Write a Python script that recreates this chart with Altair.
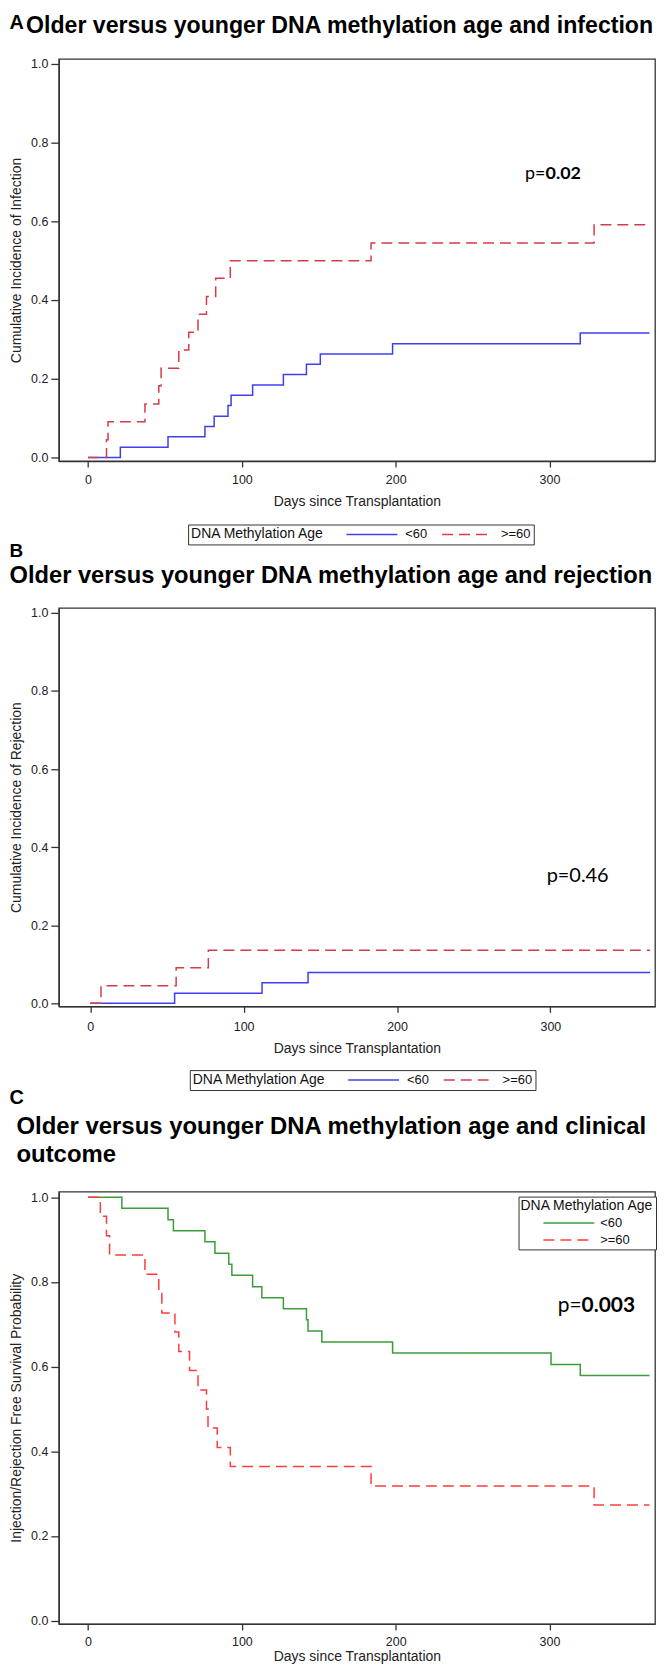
import altair as alt
import pandas as pd

GROUPS = ["<60", ">=60"]
LETTERS = ["A", "B", "C"]
TITLES = [
    "Older versus younger DNA methylation age and infection",
    "Older versus younger DNA methylation age and rejection",
    "Older versus younger DNA methylation age and clinical\noutcome",
]
Y_TITLES = [
    "Cumulative Incidence of Infection",
    "Cumulative Incidence of Rejection",
    "Injection/Rejection Free Survival Probability",
]
X_TITLE = "Days since Transplantation"
LEGEND_TITLE = "DNA Methylation Age"
X_TICKS = [0, 100, 200, 300]
Y_TICKS = [0.0, 0.2, 0.4, 0.6, 0.8, 1.0]

# Panel A: cumulative incidence of infection
inf_lt60_days = [0, 21, 52, 76, 82, 91, 93, 107, 127, 142, 151, 198, 320, 365]
inf_lt60_vals = [0, 0.026, 0.053, 0.079, 0.105, 0.132, 0.158, 0.184, 0.211, 0.237, 0.263, 0.289, 0.316, 0.316]
inf_ge60_days = [0, 12, 13, 37, 46, 47.5, 59, 65.5, 71.5, 77, 83, 92.5, 184, 329, 365]
inf_ge60_vals = [0, 0.045, 0.091, 0.136, 0.182, 0.227, 0.273, 0.318, 0.364, 0.409, 0.455, 0.5, 0.545, 0.591, 0.591]

# Panel B: cumulative incidence of rejection
rej_lt60_days = [0, 55, 112, 142, 365]
rej_lt60_vals = [0, 0.026, 0.053, 0.079, 0.079]
rej_ge60_days = [0, 7, 56, 77, 365]
rej_ge60_vals = [0, 0.045, 0.091, 0.136, 0.136]

# Panel C: infection/rejection free survival
efs_lt60_days = [0, 22, 52, 55.5, 76, 82.5, 91.5, 93.5, 107, 113, 127, 142, 143, 152, 198, 301, 320, 365]
efs_lt60_vals = [1, 0.974, 0.947, 0.921, 0.895, 0.868, 0.842, 0.816, 0.789, 0.763, 0.737, 0.711, 0.684, 0.658, 0.632, 0.605, 0.579, 0.579]
efs_ge60_days = [0, 8, 12, 14, 37, 46, 48, 56.5, 59, 66, 71.5, 77, 78, 84, 92.5, 184, 329, 365]
efs_ge60_vals = [1, 0.955, 0.909, 0.864, 0.818, 0.773, 0.727, 0.682, 0.636, 0.591, 0.545, 0.5, 0.455, 0.409, 0.364, 0.318, 0.273, 0.273]

P_LABEL = "p="
P_VALUES = ["0.02", "0.46", "0.003"]

AB_COLORS = ["#3f3ff2", "#d43c49"]
C_COLORS = ["#3a9c3a", "#ff3c3c"]
DASHES = [[1, 0], [11, 6]]

SANS = "Liberation Sans"
PFONT = "Lato"

LEFT = -49.5      # left edge of the page relative to the plot origin
YTITLE_X = -42.5


def frame(d_lt, v_lt, d_ge, v_ge):
    return pd.DataFrame({
        "day": list(d_lt) + list(d_ge),
        "val": list(v_lt) + list(v_ge),
        "group": [GROUPS[0]] * len(d_lt) + [GROUPS[1]] * len(d_ge),
    })


def text_layer(s, x, y, size, weight="bold", font=SANS, align="left", line_height=None):
    kw = {}
    if line_height is not None:
        kw["lineHeight"] = line_height
        kw["lineBreak"] = "\n"
    return alt.Chart(pd.DataFrame({"t": [s]})).mark_text(
        align=align, baseline="alphabetic", fontSize=size, fontWeight=weight,
        font=font, color="black", **kw
    ).encode(text="t:N", x=alt.value(x), y=alt.value(y))


def lines(df, width, height, xdom, ydom, ytitle, colors, legend, xlabpad, xtitle_y):
    return alt.Chart(df).mark_line(interpolate="step-after", strokeWidth=1.5).encode(
        x=alt.X("day:Q", scale=alt.Scale(domain=xdom, nice=False, zero=False),
                axis=alt.Axis(values=X_TICKS, title=X_TITLE, titleX=width / 2, titleY=xtitle_y,
                              titleBaseline="middle", titleAlign="center",
                              tickSize=6, labelPadding=xlabpad, grid=False, labelFlush=False)),
        y=alt.Y("val:Q", scale=alt.Scale(domain=ydom, nice=False, zero=False),
                axis=alt.Axis(values=Y_TICKS, format=".1f", title=ytitle, titleX=YTITLE_X,
                              titleY=height / 2, titleAngle=270, titleBaseline="middle",
                              titleAlign="center", tickSize=8, labelPadding=3, grid=False)),
        color=alt.Color("group:N", scale=alt.Scale(domain=GROUPS, range=colors), legend=legend),
        strokeDash=alt.StrokeDash("group:N", scale=alt.Scale(domain=GROUPS, range=DASHES), legend=legend),
    )


def h_legend(x, y):
    return alt.Legend(
        title=LEGEND_TITLE, orient="none", legendX=x, legendY=y, direction="horizontal",
        titleOrient="left", symbolType="stroke", symbolSize=2601, symbolStrokeWidth=1.5,
        clipHeight=14, titlePadding=21, labelOffset=7, columnPadding=13, padding=3,
        strokeColor="#333", fillColor="white", titleFontSize=14, titleFontWeight="normal",
        labelFontSize=13, titleFont=SANS, labelFont=SANS, titleColor="#111", labelColor="#111",
    )


def v_legend(x, y):
    return alt.Legend(
        title=LEGEND_TITLE, orient="none", legendX=x, legendY=y, direction="vertical",
        symbolType="stroke", symbolSize=2601, symbolStrokeWidth=1.5, symbolOffset=22,
        clipHeight=13, titlePadding=4, labelOffset=5, rowPadding=3, padding=2,
        strokeColor="#333", fillColor="white", titleFontSize=14, titleFontWeight="normal",
        labelFontSize=13, titleFont=SANS, labelFont=SANS, titleColor="#111", labelColor="#111",
    )


W = 598.5

# ---- Panel A ----
HA = 403.6
panel_a = alt.layer(
    lines(frame(inf_lt60_days, inf_lt60_vals, inf_ge60_days, inf_ge60_vals), W, HA,
          [-19.0, 368.6], [-0.0089, 1.012], Y_TITLES[0], AB_COLORS, h_legend(129.8, 467.3), 7, 41),
    text_layer(LETTERS[0], LEFT, -30.4, 20),
    text_layer(TITLES[0], -32.9, -25.9, 23.2),
    text_layer(P_LABEL, 488.6, 120, 18, weight="normal", font=PFONT, align="right"),
    text_layer(P_VALUES[0], 488.6, 120, 18, weight="bold", font=PFONT),
).properties(width=W, height=HA)

# ---- Panel B ----
HB = 400
panel_b = alt.layer(
    lines(frame(rej_lt60_days, rej_lt60_vals, rej_ge60_days, rej_ge60_vals), W, HB,
          [-20.5, 368.2], [-0.0077, 1.0128], Y_TITLES[1], AB_COLORS, h_legend(131.5, 464), 8, 42),
    text_layer(LETTERS[1], LEFT, -51, 19),
    text_layer(TITLES[1], LEFT, -25, 23.8),
    text_layer(P_LABEL + P_VALUES[1], 489.7, 275.2, 20, weight="normal", font=PFONT),
).properties(width=W, height=HB)

# ---- Panel C ----
HC = 434
panel_c = alt.layer(
    lines(frame(efs_lt60_days, efs_lt60_vals, efs_ge60_days, efs_ge60_vals), W, HC,
          [-19.0, 368.6], [-0.0078, 1.0134], Y_TITLES[2], C_COLORS, v_legend(461.5, 5), 6, 33),
    text_layer(LETTERS[2], LEFT, -88, 20),
    text_layer(TITLES[2], -42.5, -58.3, 24, line_height=28.3),
    text_layer(P_LABEL, 524.8, 120.6, 21, weight="normal", font=PFONT, align="right"),
    text_layer(P_VALUES[2], 524.8, 120.6, 21, weight="bold", font=PFONT),
).properties(width=W, height=HC)

chart = alt.vconcat(panel_a, panel_b, panel_c, spacing=-5).resolve_scale(
    color="independent", strokeDash="independent"
).resolve_legend(
    color="independent", strokeDash="independent"
).properties(padding=0).configure_view(
    stroke="#333", strokeWidth=1.3
).configure_axis(
    labelFont=SANS, labelFontSize=12.5, titleFont=SANS, titleFontSize=14,
    titleFontWeight="normal", labelColor="#222", titleColor="#222",
    domainColor="#333", tickColor="#333", domainWidth=1.3, tickWidth=1.3,
)

chart.save("out.html", embed_options={"renderer": "svg", "actions": False})
